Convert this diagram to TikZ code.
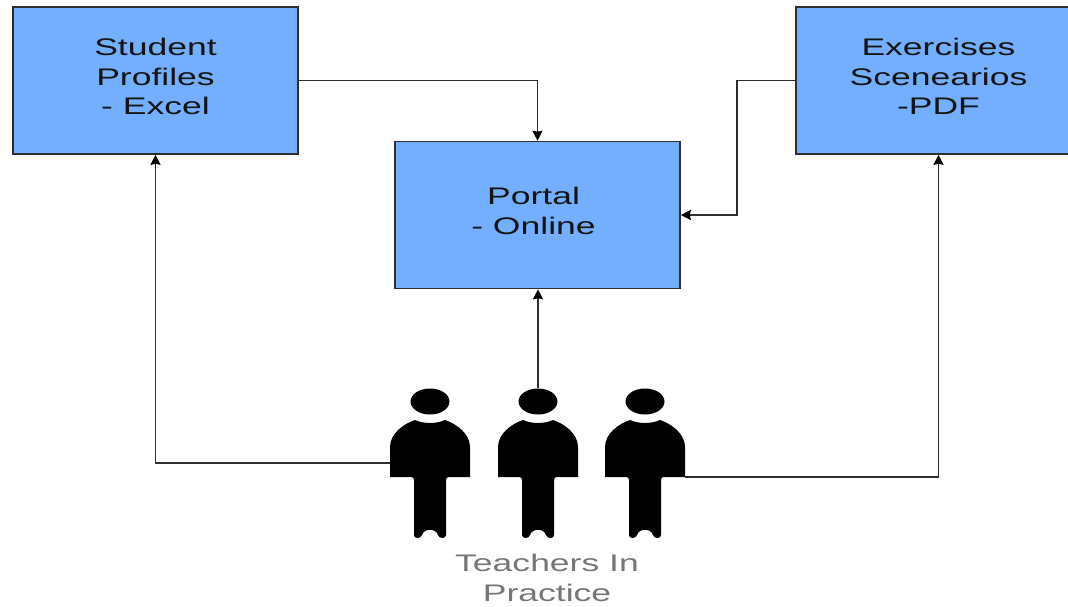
\documentclass[tikz,border=0pt]{standalone}
\usepackage{fontspec}
\setmainfont[FakeStretch=1.48]{Liberation Sans}
\usetikzlibrary{arrows.meta}
\definecolor{boxblue}{HTML}{73AEFF}
\definecolor{linegray}{HTML}{2E2E2E}
\definecolor{textgray}{HTML}{767676}
\tikzset{
x=1pt, y=-1pt, % picture is laid out in reference pixels
>={Stealth[length=10pt,width=10pt,inset=1pt,color=black]},
every node/.style={font=\fontsize{24}{29.5}\selectfont, align=center},
sheet/.style={draw=linegray, line width=1.6pt, fill=boxblue, minimum width=285pt, minimum height=147pt, inner sep=0pt, text=black!92, text depth=8pt},
link/.style={->, draw=linegray, line width=1.6pt},
teacher/.style={minimum width=80pt, minimum height=150pt, inner sep=0pt, path picture={
    \fill[shift={(path picture bounding box.center)}]
        (0,-61.5) ellipse [x radius=19.5, y radius=13]
        (-40,14) -- (-40,-16) .. controls (-40,-29) and (-27,-39) .. (-15,-43)
        .. controls (-6,-39) and (6,-39) .. (15,-43)
        .. controls (27,-39) and (40,-29) .. (40,-16) -- (40,14) -- (19,14)
        .. controls (17,14) and (16,15) .. (16,17) -- (16,72)
        .. controls (16,76) and (9,76) .. (8,72) .. controls (6,65) and (-6,65) .. (-8,72)
        .. controls (-9,76) and (-16,76) .. (-16,72) -- (-16,17)
        .. controls (-16,15) and (-17,14) .. (-19,14) -- cycle;
}},
}
\begin{document}
\begin{tikzpicture}
    \useasboundingbox (0,0) rectangle (1068,606);
    \clip (0,0) rectangle (1068,606);
    \node[sheet] (student) at (155.5,80.5) {Student\\Profiles\\- Excel};
    \node[sheet] (exercises) at (938.5,80.5) {Exercises\\Scenearios\\-PDF};
    \node[sheet] (portal) at (537.5,215) {Portal\hspace*{8pt}\\- Online\hspace*{8pt}};
    \node[teacher] (t1) at (430,463) {};
    \node[teacher] (t2) at (538,463) {};
    \node[teacher] (t3) at (645,463) {};
    \node[text=textgray] (group) at (547,578) {Teachers In\\Practice};
    \coordinate (t3out) at ([yshift=-14pt]t3.east);
    \draw[link] (student.east) -| (portal.north);
    \draw[link] (exercises.west) -- (737,80.5) |- (portal.east);
    \draw[link] (t2.north) -- (portal.south -| t2.north);
    \draw[link] (t1.west) -| (student.south);
    \draw[link] (t3out) -| (exercises.south);
\end{tikzpicture}
\end{document}
